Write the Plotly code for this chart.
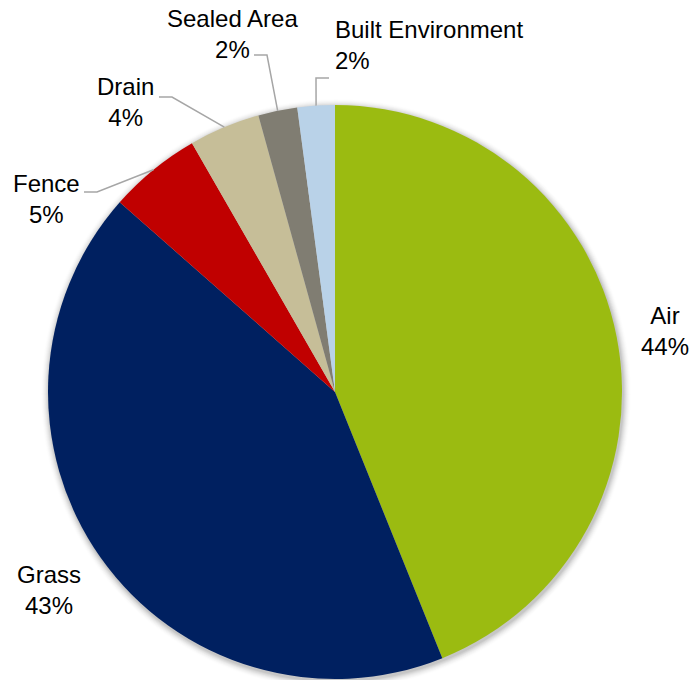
import math
import plotly.graph_objects as go

# Share of total by source
categories = ["Air", "Grass", "Fence", "Drain", "Sealed Area", "Built Environment"]
values = [43.9, 42.6, 5.2, 4.0, 2.2, 2.1]
colors = ["#9BBB11", "#002060", "#C00000", "#C6BE98", "#807D72", "#B9D2E8"]

W, H = 693, 680
CX, CY, R = 335, 392, 287  # pie centre and radius in pixels


def px(x):
    return x / W


def py(y):
    return 1 - y / H


fig = go.Figure(
    go.Pie(
        labels=categories,
        values=values,
        marker=dict(colors=colors, line=dict(width=0)),
        sort=False,
        direction="clockwise",
        rotation=0,
        textinfo="none",
        hoverinfo="label+percent",
        domain=dict(x=[px(CX - R), px(CX + R)], y=[py(CY + R), py(CY - R)]),
        showlegend=False,
    )
)

total = sum(values)
pcts = [v / total * 100 for v in values]

# label block centre (px), alignment, and leader-line start (None = no leader)
label_style = {
    "Air": dict(pos=(665, 331), align="center", leader=None),
    "Grass": dict(pos=(49, 590), align="center", leader=None),
    "Fence": dict(pos=(46, 199), align="center", leader=(84, 97, 192)),
    "Drain": dict(pos=(125, 102), align="center", leader=(159, 172, 97)),
    "Sealed Area": dict(pos=(232, 34), align="center", leader=(254, 267, 55)),
    "Built Environment": dict(pos=(333, 45), align="left", leader=(329, 316, 78)),
}

shapes = []
# soft glow/shadow around the pie
for i, op in enumerate([0.05, 0.045, 0.04, 0.032, 0.025, 0.018, 0.012, 0.008]):
    rr = R + 1 + i
    ox, oy = CX + 1, CY + 2
    shapes.append(dict(
        type="circle", xref="paper", yref="paper", layer="below",
        x0=px(ox - rr), x1=px(ox + rr), y0=py(oy + rr), y1=py(oy - rr),
        fillcolor=f"rgba(0,0,0,{op})", line=dict(width=0),
    ))

annotations = []
cum = 0.0
for cat, val, pct in zip(categories, values, pcts):
    mid = (cum + val / 2) / total * 2 * math.pi
    cum += val
    st = label_style[cat]
    lx, ly = st["pos"]
    text = f"{cat}<br>{pct:.0f}%"
    annotations.append(dict(
        x=px(lx), y=py(ly), xref="paper", yref="paper",
        text=text, showarrow=False,
        xanchor="left" if st["align"] == "left" else "center",
        yanchor="middle", align=st["align"],
        font=dict(family="Liberation Sans, Arial", size=24, color="#000000"),
    ))
    if st["leader"] is not None:
        x0, x1, yl = st["leader"]
        ex = CX + R * math.sin(mid)
        ey = CY - R * math.cos(mid)
        path = (f"M {px(x0)},{py(yl)} L {px(x1)},{py(yl)} "
                f"L {px(ex)},{py(ey)}")
        shapes.append(dict(
            type="path", xref="paper", yref="paper", path=path,
            line=dict(color="#A6A6A6", width=1.5), layer="above",
        ))

fig.update_layout(
    width=W, height=H,
    margin=dict(l=0, r=0, t=0, b=0),
    paper_bgcolor="#FFFFFF",
    plot_bgcolor="#FFFFFF",
    shapes=shapes,
    annotations=annotations,
)

fig.write_html("out.html")
